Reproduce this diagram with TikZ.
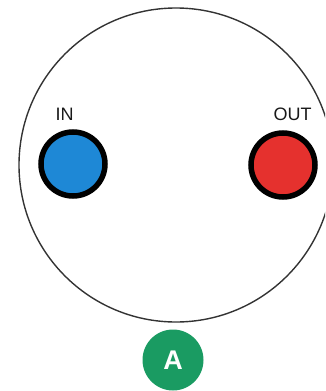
\documentclass[tikz,border=0pt]{standalone}
\usepackage{fontspec}
\setmainfont{Liberation Sans}
\definecolor{inblue}{HTML}{1E88D6}
\definecolor{outred}{HTML}{E5312E}
\definecolor{agreen}{HTML}{1A9B62}
\definecolor{rim}{HTML}{333333}
\begin{document}
\begin{tikzpicture}[x=1pt,y=-1pt,
  port/.style={circle,draw=black,line width=5.5pt,minimum size=64pt,inner sep=0pt},
  lbl/.style={font=\fontsize{18}{18}\selectfont,text=black!90,inner sep=0pt},
  badge/.style={circle,fill=agreen,minimum size=61pt,inner sep=0pt,text=white,font=\fontsize{27}{27}\selectfont\bfseries}]
\useasboundingbox (0,0) rectangle (325,391);
\begin{scope}
\clip (0,0) rectangle (325,391);
\node[circle,draw=rim,line width=1.4pt,minimum size=314pt,inner sep=0pt] (body) at (176,165) {};
\end{scope}
\node[port,fill=inblue] (in) at (73,164) {};
\node[port,fill=outred] (out) at (283,165) {};
\node[lbl] (inl) at (64.5,114) {IN};
\node[lbl] (outl) at (292.5,114) {OUT};
\node[badge] (a) at (173,360) {A};
\end{tikzpicture}
\end{document}
